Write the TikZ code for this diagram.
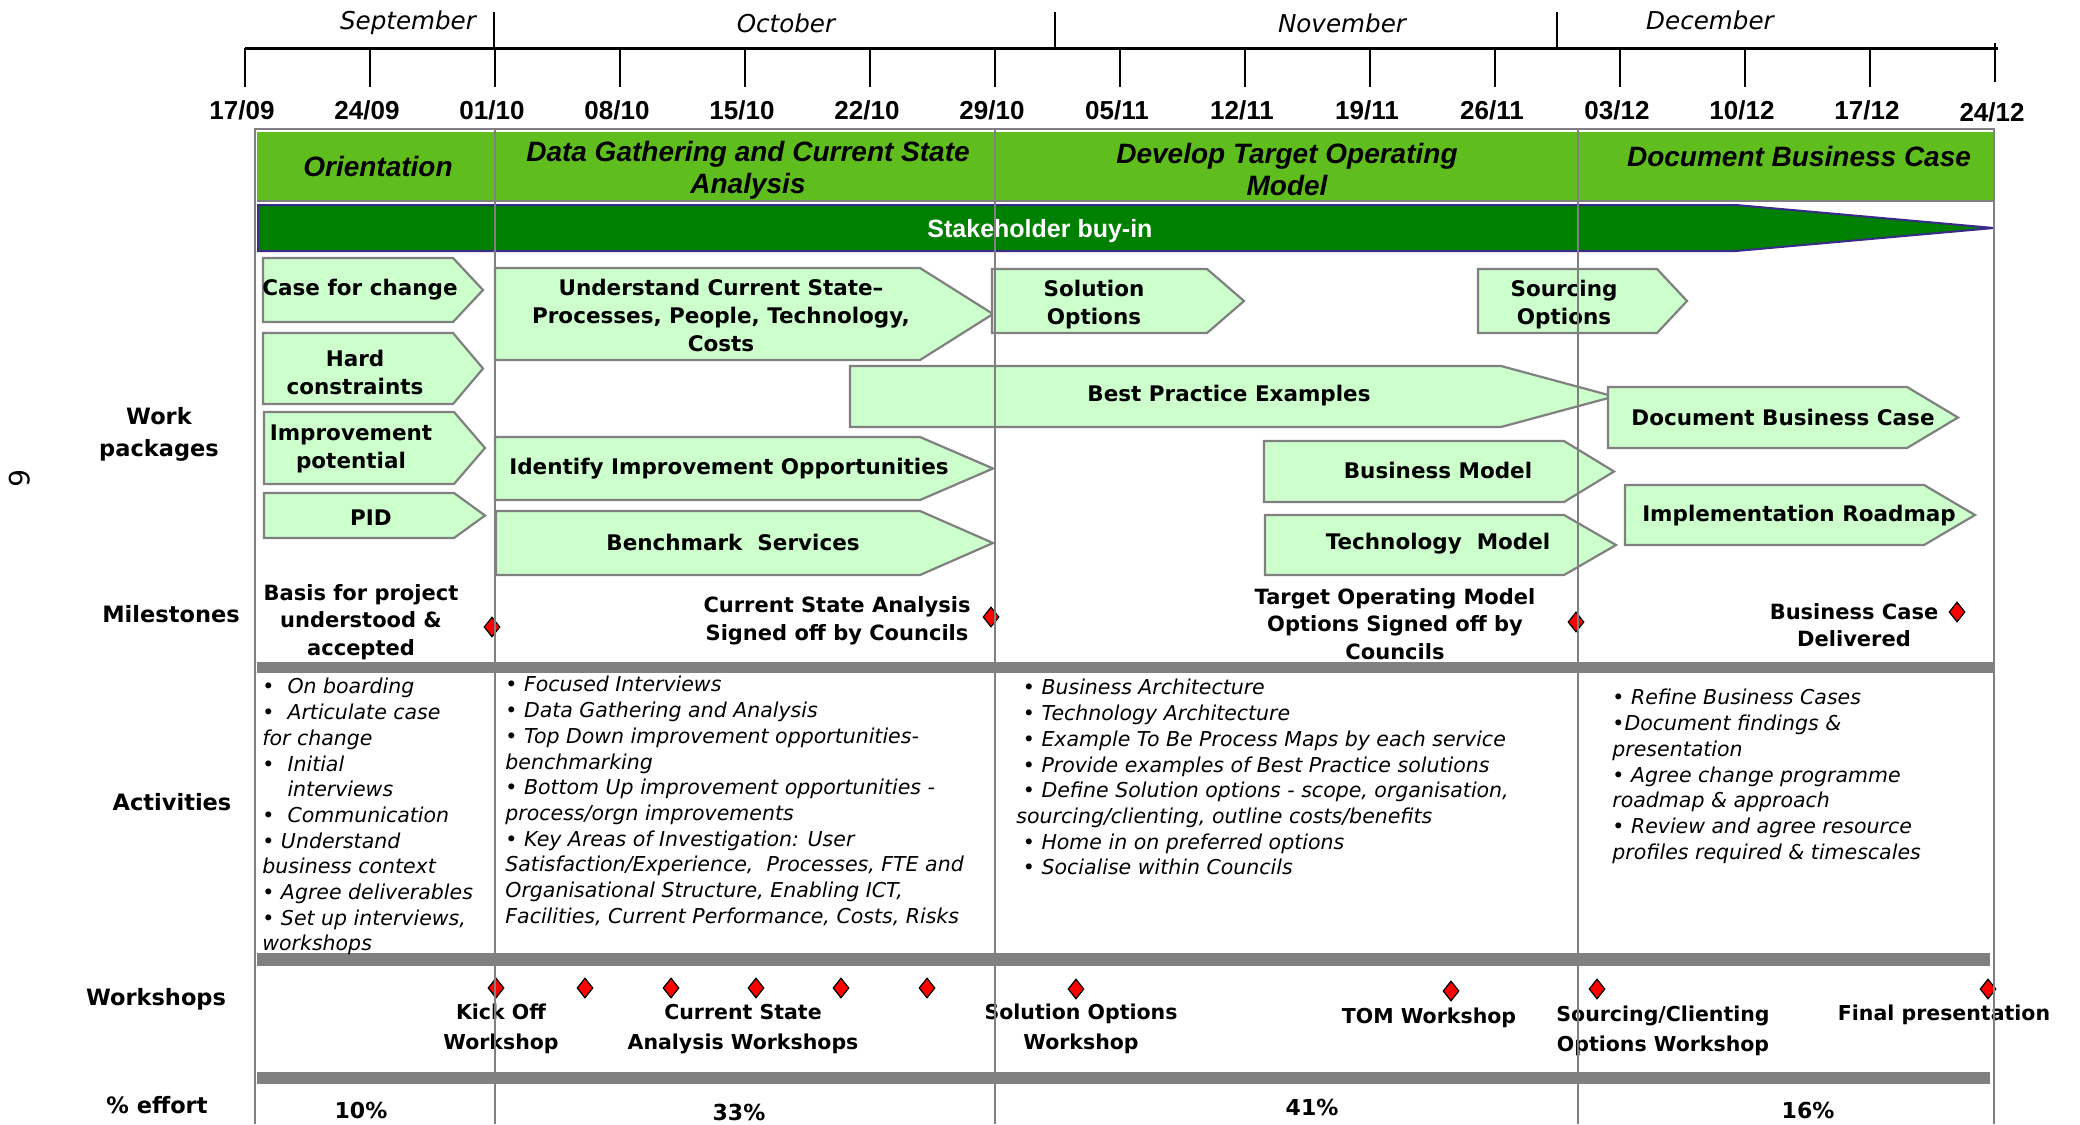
\documentclass[tikz,border=0pt]{standalone}
\usepackage{fontspec}
\setmainfont{DejaVu Sans}
\newfontfamily\arialf{Liberation Sans}
\usetikzlibrary{shapes.geometric}
\definecolor{hdrgreen}{HTML}{5FBE1E}
\definecolor{darkgrn}{HTML}{008000}
\definecolor{barline}{HTML}{3A2A8A}
\definecolor{wpfill}{HTML}{CCFFCC}
\definecolor{wpline}{HTML}{808080}
\definecolor{sepgray}{HTML}{808080}
\definecolor{msred}{HTML}{FF0000}
\tikzset{
 wpbox/.style={fill=wpfill, draw=wpline, line width=1.1pt, line join=miter},
 wptext/.style={font=\fontsize{10.75}{14}\selectfont\bfseries, align=center, inner sep=0},
 rowlab/.style={font=\fontsize{11.25}{16}\selectfont\bfseries, align=center, inner sep=0},
 mstext/.style={font=\fontsize{10.5}{13.75}\selectfont\bfseries, align=center, inner sep=0},
 wstext/.style={font=\fontsize{10.25}{15}\selectfont\bfseries, align=center, inner sep=0},
 acttext/.style={font=\fontsize{10.25}{12.85}\selectfont\itshape, align=left, anchor=north west, inner sep=0},
 hdrtext/.style={font=\arialf\fontsize{14}{16}\selectfont\bfseries\itshape, align=center, inner sep=0},
 datetext/.style={font=\arialf\fontsize{13}{15}\selectfont\bfseries, inner sep=0},
 monthtext/.style={font=\fontsize{12.3}{14}\selectfont\itshape, inner sep=0},
 efftext/.style={font=\fontsize{11}{13}\selectfont\bfseries, inner sep=0},
 redmark/.style={diamond, fill=msred, draw=black, line width=0.6pt, minimum width=8pt, minimum height=10pt, inner sep=0},
 divline/.style={draw=wpline, line width=1pt},
 sepbar/.style={fill=sepgray},
}
\newcommand\wpk[9]{%
  \draw[wpbox] (#2,#5) -- (#3,#5) -- (#4,{(#5+#6)/2}) -- (#3,#6) -- (#2,#6) -- cycle;
  \node[wptext] (#1) at (#7,#8) {#9};}
\begin{document}
\begin{tikzpicture}[x=0.5pt, y=-0.5pt]
\fill[white] (0,0) rectangle (2080,1124);
\useasboundingbox (0,0) rectangle (2080,1124);

% timeline
\draw[line width=1.5pt] (245,48) -- (1998,48);
\foreach \k in {0,...,13} {\draw[line width=1pt] ({245+125*\k},48) -- ({245+125*\k},87);}
\draw[line width=1pt] (1995,43) -- (1995,82);
\foreach \xx in {494,1055,1557} {\draw[line width=1pt] (\xx,12) -- (\xx,48);}
\foreach \lab [count=\i from 0] in {17/09,24/09,01/10,08/10,15/10,22/10,29/10,05/11,12/11,19/11,26/11,03/12,10/12,17/12} {
  \node[datetext] (date\i) at ({242+125*\i},110) {\lab};}
\node[datetext] (date14) at (1992,112) {24/12};
\node[monthtext] (mSep) at (408,23) {September};
\node[monthtext] (mOct) at (786,23) {October};
\node[monthtext] (mNov) at (1342,23) {November};
\node[monthtext] (mDec) at (1710,20) {December};

% table frame and header
\draw[draw=wpline, line width=1pt] (255,129) -- (1994,129);
\fill[hdrgreen] (257,132) rectangle (1993,200);
\draw[draw=wpline, line width=0.8pt] (257,201) -- (1993,201);
\node[hdrtext] (h1) at (378,166) {Orientation};
\node[hdrtext] (h2) at (748,170) {Data Gathering and Current State\\Analysis};
\node[hdrtext] (h3) at (1287,169) {Develop Target Operating\\Model};
\node[hdrtext] (h4) at (1799,156) {Document Business Case};

% stakeholder bar
\draw[fill=darkgrn, draw=barline, line width=1pt] (258,205) -- (1736,205) -- (1994,228) -- (1736,251) -- (258,251) -- cycle;
\node[font=\arialf\fontsize{12.5}{14}\selectfont\bfseries, text=white, inner sep=0] (stake) at (1040,231) {Stakeholder buy-in};

% separator bars
\fill[sepgray] (257,662) rectangle (1994,673);
\fill[sepgray] (257,953) rectangle (1990,966);
\fill[sepgray] (257,1072) rectangle (1990,1084);

% row labels
\node[rowlab] (lWork) at (159,434) {Work\\packages};
\node[rowlab] (lMile) at (171,614) {Milestones};
\node[rowlab] (lAct) at (172,802) {Activities};
\node[rowlab] (lWs) at (156,999) {Workshops};
\node[rowlab] (lEff) at (157,1105) {\% effort};
\node[font=\fontsize{14}{16}\selectfont, rotate=-90, inner sep=0] (pgnum) at (20,478) {6};

% work packages
\wpk{cfc}{263}{453}{483}{258}{322}{360}{290}{Case for change}
\wpk{hc}{263}{453}{483}{333}{404}{355}{372}{Hard\\constraints}
\wpk{ip}{264}{454}{485}{412}{484}{351}{449}{Improvement\\potential}
\wpk{pid}{264}{454}{485}{493}{538}{371}{518}{PID}
\wpk{ucs}{495}{920}{993}{268}{360}{721}{315}{Understand Current State–\\Processes, People, Technology,\\Costs}
\wpk{bpe}{850}{1501}{1614}{366}{427}{1229}{396}{Best Practice Examples}
\wpk{iio}{495}{920}{993}{437}{500}{729}{469}{Identify Improvement Opportunities}
\wpk{bms}{496}{920}{993}{511}{575}{733}{542}{Benchmark\ \ Services}
\wpk{so}{992}{1207}{1244}{269}{333}{1094}{305}{Solution\\Options}
\wpk{sco}{1478}{1657}{1687}{269}{333}{1564}{305}{Sourcing\\Options}
\wpk{dbc}{1608}{1907}{1958}{387}{448}{1783}{417}{Document Business Case}
\wpk{bm}{1264}{1564}{1614}{441}{502}{1438}{470}{Business Model}
\wpk{tm}{1265}{1564}{1616}{515}{575}{1438}{544}{Technology\ \ Model}
\wpk{ir}{1625}{1924}{1975}{485}{545}{1799}{516}{Implementation Roadmap}

% milestones
\node[mstext] (m1) at (361,622) {Basis for project\\understood \&\\accepted};
\node[mstext] (m2) at (837,621) {Current State Analysis\\Signed off by Councils};
\node[mstext] (m3) at (1395,624) {Target Operating Model\\Options Signed off by\\Councils};
\node[mstext] (m4) at (1854,625) {Business Case\\Delivered};
\node[redmark] (md1) at (492,627) {};
\node[redmark] (md2) at (991,617) {};
\node[redmark] (md3) at (1576,622) {};
\node[redmark] (md4) at (1957,612) {};

% activities
\node[acttext] (act1) at (262,678) {•\ \ On boarding\\•\ \ Articulate case\\for change\\•\ \ Initial\\\phantom{•\ \ }interviews\\•\ \ Communication\\• Understand\\business context\\• Agree deliverables\\• Set up interviews,\\workshops};
\node[acttext] (act2) at (505,676) {• Focused Interviews\\• Data Gathering and Analysis\\• Top Down improvement opportunities-\\benchmarking\\• Bottom Up improvement opportunities -\\process/orgn improvements\\• Key Areas of Investigation: User\\Satisfaction/Experience,\ \ Processes, FTE and\\Organisational Structure, Enabling ICT,\\Facilities, Current Performance, Costs, Risks};
\node[acttext] (act3) at (1016,679) {\ • Business Architecture\\\ • Technology Architecture\\\ • Example To Be Process Maps by each service\\\ • Provide examples of Best Practice solutions\\\ • Define Solution options - scope, organisation,\\sourcing/clienting, outline costs/benefits\\\ • Home in on preferred options\\\ • Socialise within Councils};
\node[acttext] (act4) at (1612,689) {• Refine Business Cases\\•Document findings \&\\presentation\\• Agree change programme\\roadmap \& approach\\• Review and agree resource\\profiles required \& timescales};

% workshops
\foreach \xx/\yy [count=\i] in {496/988,585/988,671/988,756/988,841/988,927/988,1076/989,1451/991,1597/989,1988/989} {
  \node[redmark] (wd\i) at (\xx,\yy) {};}
\node[wstext] (w1) at (501,1029) {Kick Off\\Workshop};
\node[wstext] (w2) at (743,1029) {Current State\\Analysis Workshops};
\node[wstext] (w3) at (1081,1029) {Solution Options\\Workshop};
\node[wstext] (w4) at (1429,1018) {TOM Workshop};
\node[wstext] (w5) at (1663,1031) {Sourcing/Clienting\\Options Workshop};
\node[wstext] (w6) at (1944,1015) {Final presentation};

% effort
\node[efftext] (e1) at (361,1110) {10\%};
\node[efftext] (e2) at (739,1112) {33\%};
\node[efftext] (e3) at (1312,1107) {41\%};
\node[efftext] (e4) at (1808,1110) {16\%};

% dividers
\draw[divline, line width=1.4pt] (255,128) -- (255,1124);
\foreach \xx in {495,995,1578,1994} {\draw[divline] (\xx,128) -- (\xx,1124);}
\end{tikzpicture}
\end{document}
